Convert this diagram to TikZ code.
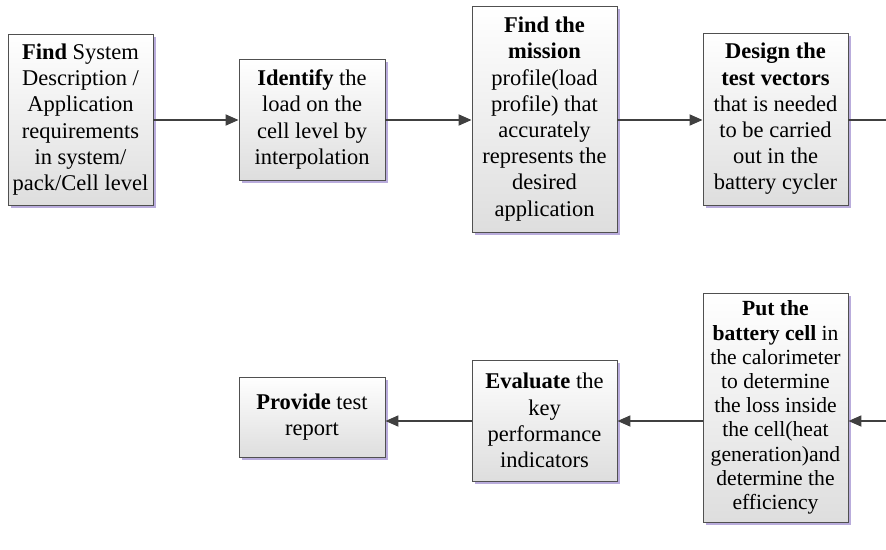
\documentclass[tikz,border=0pt]{standalone}
\usepackage{fontspec}
\setmainfont{Liberation Serif}
\usetikzlibrary{arrows.meta,shadows}
\definecolor{shadowlav}{RGB}{185,172,220}
\definecolor{arrowgray}{RGB}{64,64,64}
\definecolor{boxborder}{RGB}{80,80,80}
\tikzset{
  flowbox/.style={rectangle, draw=boxborder, line width=0.9pt, inner sep=0pt,
    top color=white, bottom color=black!13, align=center,
    font=\fontsize{22.5}{26.2}\selectfont,
    drop shadow={shadow xshift=3pt, shadow yshift=-3pt, fill=shadowlav, opacity=1}},
  conn/.style={draw=arrowgray, line width=1.8pt, -{Triangle[length=13pt,width=11pt]}},
  plainconn/.style={draw=arrowgray, line width=1.8pt}
}
\begin{document}
\begin{tikzpicture}[x=1pt,y=-1pt]
\useasboundingbox (0,0) rectangle (886,549);
\node[flowbox, minimum width=145pt, minimum height=171pt] (b1) at (80.5,119.5)
  {\textbf{Find} System\\Description /\\Application\\requirements\\in system/\\pack/Cell level};
\node[flowbox, minimum width=146pt, minimum height=121pt] (b2) at (312,119.5)
  {\textbf{Identify} the\\load on the\\cell level by\\interpolation};
\node[flowbox, minimum width=145pt, minimum height=226pt] (b3) at (544.5,119)
  {\textbf{Find the}\\\textbf{mission}\\profile(load\\profile) that\\accurately\\represents the\\desired\\application};
\node[flowbox, minimum width=145pt, minimum height=172pt] (b4) at (775.5,119)
  {\textbf{Design the}\\\textbf{test vectors}\\that is needed\\to be carried\\out in the\\battery cycler};
\node[flowbox, minimum width=145pt, minimum height=229pt, font=\fontsize{21.6}{24.2}\selectfont] (b5) at (775.5,407.5)
  {\textbf{Put the}\\\textbf{battery cell} in\\the calorimeter\\to determine\\the loss inside\\the cell(heat\\generation)and\\determine the\\efficiency};
\node[flowbox, minimum width=145pt, minimum height=121pt] (b6) at (544.5,420.5)
  {\textbf{Evaluate} the\\key\\performance\\indicators};
\node[flowbox, minimum width=146pt, minimum height=80pt] (b7) at (312,417)
  {\textbf{Provide} test\\report};
\coordinate (r1) at (886,120);
\coordinate (r2) at (886,421);
\draw[conn] (b1.east|-r1) -- (b2.west|-r1);
\draw[conn] (b2.east|-r1) -- (b3.west|-r1);
\draw[conn] (b3.east|-r1) -- (b4.west|-r1);
\draw[plainconn] (b4.east|-r1) -- (r1);
\draw[conn] (r2) -- (b5.east|-r2);
\draw[conn] (b5.west|-r2) -- (b6.east|-r2);
\draw[conn] (b6.west|-r2) -- (b7.east|-r2);
\end{tikzpicture}
\end{document}
